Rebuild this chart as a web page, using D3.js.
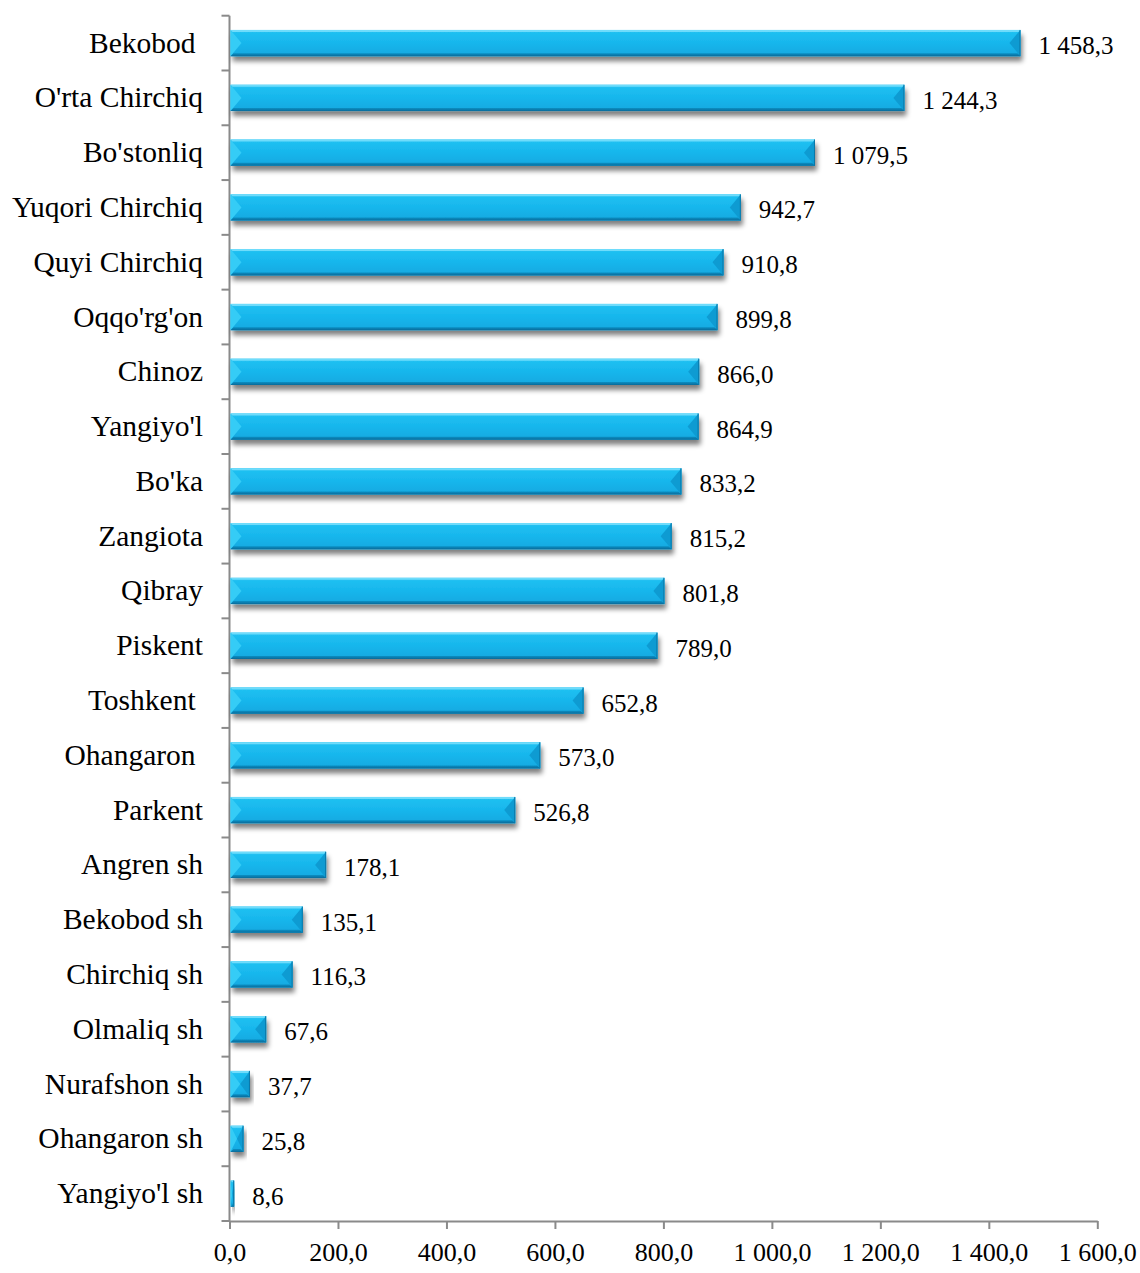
<!DOCTYPE html>
<html><head><meta charset="utf-8">
<script src="https://cdn.jsdelivr.net/npm/d3@7"></script>
<style>
html,body{margin:0;padding:0;background:#fff;}
svg text{font-family:"Liberation Serif","Times New Roman",serif;fill:#000;white-space:pre;}
</style></head>
<body><svg id="c" width="1140" height="1273"></svg>
<script>
const categories = ["Bekobod ","O'rta Chirchiq","Bo'stonliq","Yuqori Chirchiq","Quyi Chirchiq","Oqqo'rg'on","Chinoz","Yangiyo'l","Bo'ka","Zangiota","Qibray","Piskent","Toshkent ","Ohangaron ","Parkent","Angren sh","Bekobod sh","Chirchiq sh","Olmaliq sh","Nurafshon sh","Ohangaron sh","Yangiyo'l sh"];
const values = [1458.3,1244.3,1079.5,942.7,910.8,899.8,866.0,864.9,833.2,815.2,801.8,789.0,652.8,573.0,526.8,178.1,135.1,116.3,67.6,37.7,25.8,8.6];
const xTicks = [0,200,400,600,800,1000,1200,1400,1600];

(function(){
const svg = d3.select("#c");
const pL = 229.5, pR = 1097.3, pT = 15.7, pB = 1221;
const x = d3.scaleLinear().domain([0,1600]).range([pL,pR]);
const y = d3.scaleBand().domain(categories).range([pT,pB]).paddingInner(0.52).paddingOuter(0.26);
const loc = d3.formatLocale({decimal:",",thousands:"\u00a0",grouping:[3],currency:["",""]});
const fmt = loc.format(",.1f");

const defs = svg.append("defs");
const g = defs.append("linearGradient").attr("id","bg").attr("x1",0).attr("y1",0).attr("x2",0).attr("y2",1);
[[0,"#22c2f2"],[0.5,"#17b6ec"],[1,"#10a8e0"]].forEach(s=>g.append("stop").attr("offset",s[0]).attr("stop-color",s[1]));
const gb = defs.append("linearGradient").attr("id","bb").attr("x1",0).attr("y1",0).attr("x2",0).attr("y2",1);
[[0,"#0c8fc3"],[1,"#086b9b"]].forEach(s=>gb.append("stop").attr("offset",s[0]).attr("stop-color",s[1]));
const f = defs.append("filter").attr("id","sh").attr("x","-10%").attr("y","-30%").attr("width","130%").attr("height","190%");
f.append("feGaussianBlur").attr("in","SourceAlpha").attr("stdDeviation",2.8).attr("result","b");
f.append("feOffset").attr("in","b").attr("dx",2).attr("dy",5).attr("result","o");
f.append("feComponentTransfer").attr("in","o").attr("result","o2").append("feFuncA").attr("type","linear").attr("slope",0.5);
const m = f.append("feMerge"); m.append("feMergeNode").attr("in","o2"); m.append("feMergeNode").attr("in","SourceGraphic");

const axisColor = "#8a8a8a";
const yAxis = svg.append("g");
yAxis.append("line").attr("x1",pL).attr("x2",pL).attr("y1",pT).attr("y2",pB).attr("stroke",axisColor).attr("stroke-width",2);
yAxis.selectAll("line.t").data([pT].concat(categories.map((c,i)=>pT+(pB-pT)/categories.length*(i+1)))).enter().append("line")
  .attr("class","t").attr("x1",pL-8).attr("x2",pL).attr("y1",d=>d).attr("y2",d=>d).attr("stroke",axisColor).attr("stroke-width",2);

const xAxis = svg.append("g").attr("transform",`translate(0,${pB})`)
  .call(d3.axisBottom(x).tickValues(xTicks).tickSize(8).tickSizeOuter(0).tickPadding(14).tickFormat(d=>fmt(d)));
xAxis.select(".domain").attr("stroke",axisColor).attr("stroke-width",2);
xAxis.selectAll(".tick line").attr("stroke",axisColor).attr("stroke-width",2);
xAxis.selectAll(".tick text").attr("font-size",26).attr("font-family","Liberation Serif").attr("fill","#000").attr("dy",null).attr("y",40);

const bars = svg.append("g").selectAll("g.bar").data(values).enter().append("g").attr("class","bar");
bars.each(function(v,i){
  const gg = d3.select(this);
  const x0 = x(0)+1, x1 = x(v), y0 = y(categories[i]), h = y.bandwidth(), y1 = y0+h, ym = y0+h/2;
  const w = x1-x0;
  const bw = Math.min(11, w/2);
  gg.append("rect").attr("x",x0).attr("y",y0).attr("width",w).attr("height",h).attr("fill","url(#bg)").attr("filter","url(#sh)");
  gg.append("polygon").attr("points",[[x0,y0],[x0+bw,ym],[x0,y1]].join(" ")).attr("fill","#35ccf6");
  gg.append("polygon").attr("points",[[x1,y0],[x1-bw,ym],[x1,y1]].join(" ")).attr("fill","#0e9bd2");
  gg.append("polygon").attr("points",[[x0,y0],[x1,y0],[x1-2,y0+2],[x0+2,y0+2]].join(" ")).attr("fill","#6fdcfb");
  gg.append("polygon").attr("points",[[x0,y1],[x1,y1],[x1-3,y1-3],[x0+3,y1-3]].join(" ")).attr("fill","url(#bb)");
  gg.append("line").attr("x1",x1-0.5).attr("x2",x1-0.5).attr("y1",y0).attr("y2",y1).attr("stroke","#0a78a8").attr("stroke-width",1);
});

svg.append("g").selectAll("text").data(categories).enter().append("text")
  .attr("x",203).attr("y",d=>y(d)+y.bandwidth()/2+9.5).attr("text-anchor","end").attr("font-size",29.5)
  .attr("xml:space","preserve").text(d=>d);

svg.append("g").selectAll("text").data(values).enter().append("text")
  .attr("x",d=>x(d)+18).attr("y",(d,i)=>y(categories[i])+y.bandwidth()/2+11).attr("font-size",25)
  .text(d=>fmt(d));
})();
</script></body></html>
